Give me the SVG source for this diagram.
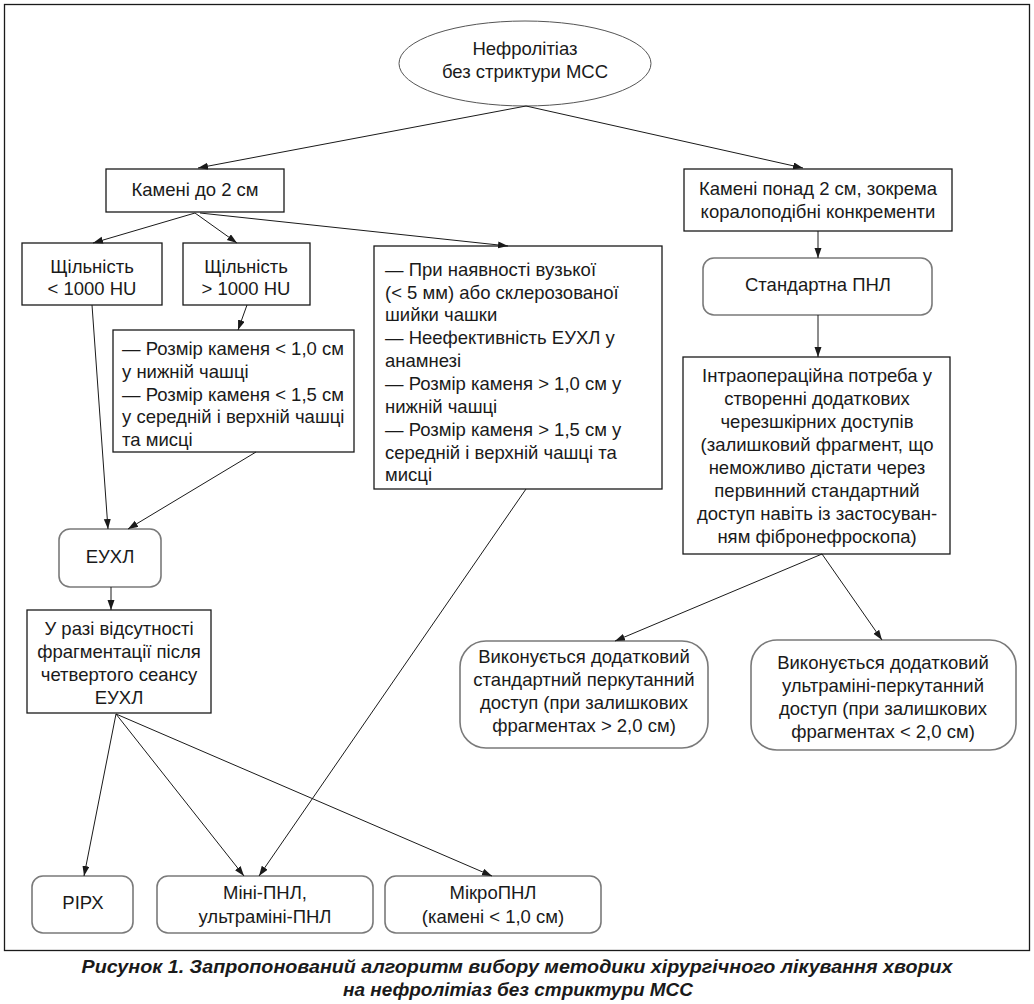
<svg xmlns="http://www.w3.org/2000/svg" width="1034" height="1004" viewBox="0 0 1034 1004">
<defs>
<marker id="ah" markerUnits="userSpaceOnUse" markerWidth="11" markerHeight="8" refX="10" refY="3.5" orient="auto">
<path d="M0,0 L10,3.5 L0,7 z" fill="#1a1a1a"/>
</marker>
<style>
text{font-family:"Liberation Sans",Arial,sans-serif;font-size:18.5px;fill:#1a1a1a}
.c{text-anchor:middle}
.box{fill:#fff;stroke:#1a1a1a;stroke-width:1.3}
.rbox{fill:#fff;stroke:#7a7a7a;stroke-width:1.6}
.ell{fill:#fff;stroke:#555;stroke-width:1}
.conn line{stroke:#1a1a1a;stroke-width:1;marker-end:url(#ah)}
.cap{font-weight:bold;font-style:italic;font-size:19px}
</style>
</defs>
<rect x="0" y="0" width="1034" height="1004" fill="#fff"/>
<rect x="4.5" y="4.5" width="1025" height="946" fill="none" stroke="#1a1a1a" stroke-width="1.3"/>

<g id="n-start">
<ellipse class="ell" cx="525" cy="63.5" rx="126" ry="42.5"/>
<text class="c" x="525" y="55">Нефролітіаз</text>
<text class="c" x="525" y="78">без стриктури МСС</text>
</g>
<g id="n-small">
<rect class="box" x="106" y="169" width="178" height="43"/>
<text class="c" x="195" y="196">Камені до 2 см</text>
</g>
<g id="n-large">
<rect class="box" x="684" y="169" width="268" height="62"/>
<text class="c" x="818" y="195">Камені понад 2 см, зокрема</text>
<text class="c" x="818" y="218">коралоподібні конкременти</text>
</g>
<g id="n-stdpnl">
<rect class="rbox" x="703" y="258" width="229" height="57" rx="11"/>
<text class="c" x="818" y="291">Стандартна ПНЛ</text>
</g>
<g id="n-dens-low">
<rect class="box" x="22" y="243" width="140" height="62"/>
<text class="c" x="92" y="273">Щільність</text>
<text class="c" x="92" y="295">&lt; 1000 HU</text>
</g>
<g id="n-dens-high">
<rect class="box" x="183" y="243" width="127" height="62"/>
<text class="c" x="246" y="273">Щільність</text>
<text class="c" x="246" y="295">&gt; 1000 HU</text>
</g>
<g id="n-cond">
<rect class="box" x="113" y="330" width="241" height="122"/>
<text x="122" y="355">— Розмір каменя &lt; 1,0 см</text>
<text x="122" y="378">у нижній чашці</text>
<text x="122" y="401">— Розмір каменя &lt; 1,5 см</text>
<text x="122" y="423">у середній і верхній чашці</text>
<text x="122" y="446">та мисці</text>
</g>
<g id="n-mid">
<rect class="box" x="374" y="246" width="288" height="243"/>
<text x="385" y="276">— При наявності вузької</text>
<text x="385" y="299">(&lt; 5 мм) або склерозованої</text>
<text x="385" y="321">шийки чашки</text>
<text x="385" y="344">— Неефективність ЕУХЛ у</text>
<text x="385" y="367">анамнезі</text>
<text x="385" y="390">— Розмір каменя &gt; 1,0 см у</text>
<text x="385" y="413">нижній чашці</text>
<text x="385" y="436">— Розмір каменя &gt; 1,5 см у</text>
<text x="385" y="459">середній і верхній чашці та</text>
<text x="385" y="481">мисці</text>
</g>
<g id="n-eswl">
<rect class="rbox" x="59" y="529" width="102" height="58" rx="11"/>
<text class="c" x="110" y="563">ЕУХЛ</text>
</g>
<g id="n-nofrag">
<rect class="box" x="27" y="610" width="184" height="103"/>
<text class="c" x="119" y="635">У разі відсутності</text>
<text class="c" x="119" y="658">фрагментації після</text>
<text class="c" x="119" y="681">четвертого сеансу</text>
<text class="c" x="119" y="704">ЕУХЛ</text>
</g>
<g id="n-intraop">
<rect class="box" x="683" y="357" width="267" height="197"/>
<text class="c" x="817" y="382">Інтраопераційна потреба у</text>
<text class="c" x="817" y="405">створенні додаткових</text>
<text class="c" x="817" y="428">черезшкірних доступів</text>
<text class="c" x="817" y="451">(залишковий фрагмент, що</text>
<text class="c" x="817" y="474">неможливо дістати через</text>
<text class="c" x="817" y="497">первинний стандартний</text>
<text class="c" x="817" y="520">доступ навіть із застосуван-</text>
<text class="c" x="817" y="543">ням фібронефроскопа)</text>
</g>
<g id="n-add-std">
<rect class="rbox" x="460" y="641" width="248" height="107" rx="26"/>
<text class="c" x="584" y="663">Виконується додатковий</text>
<text class="c" x="584" y="686">стандартний перкутанний</text>
<text class="c" x="584" y="709">доступ (при залишкових</text>
<text class="c" x="584" y="732">фрагментах &gt; 2,0 см)</text>
</g>
<g id="n-add-um">
<rect class="rbox" x="751" y="640" width="265" height="110" rx="26"/>
<text class="c" x="883" y="669">Виконується додатковий</text>
<text class="c" x="883" y="692">ультраміні-перкутанний</text>
<text class="c" x="883" y="715">доступ (при залишкових</text>
<text class="c" x="883" y="738">фрагментах &lt; 2,0 см)</text>
</g>
<g id="n-rirs">
<rect class="rbox" x="32" y="876" width="101" height="57" rx="11"/>
<text class="c" x="83" y="909">РІРХ</text>
</g>
<g id="n-mini">
<rect class="rbox" x="157" y="876" width="216" height="57" rx="11"/>
<text class="c" x="265" y="899">Міні-ПНЛ,</text>
<text class="c" x="265" y="923">ультраміні-ПНЛ</text>
</g>
<g id="n-micro">
<rect class="rbox" x="385" y="876" width="216" height="57" rx="11"/>
<text class="c" x="493" y="899">МікроПНЛ</text>
<text class="c" x="493" y="923">(камені &lt; 1,0 см)</text>
</g>

<g id="connectors" class="conn">
<line x1="526" y1="106" x2="198" y2="168"/>
<line x1="526" y1="106" x2="803" y2="168"/>
<line x1="195" y1="213" x2="93" y2="243"/>
<line x1="195" y1="213" x2="237" y2="243"/>
<line x1="200" y1="213" x2="508" y2="246"/>
<line x1="818" y1="231" x2="818" y2="258"/>
<line x1="818" y1="315" x2="818" y2="357"/>
<line x1="247" y1="305" x2="238" y2="330"/>
<line x1="92" y1="305" x2="108" y2="529"/>
<line x1="256" y1="452" x2="128" y2="529"/>
<line x1="111" y1="587" x2="111" y2="610"/>
<line x1="822" y1="554" x2="615" y2="641"/>
<line x1="822" y1="554" x2="882" y2="640"/>
<line x1="116" y1="714" x2="84" y2="876"/>
<line x1="116" y1="714" x2="244" y2="876"/>
<line x1="116" y1="714" x2="492" y2="876"/>
<line x1="526" y1="489" x2="259" y2="876"/>
</g>

<g id="caption">
<text class="c cap" x="517" y="973" textLength="871" lengthAdjust="spacingAndGlyphs">Рисунок 1. Запропонований алгоритм вибору методики хірургічного лікування хворих</text>
<text class="c cap" x="518" y="996" textLength="350" lengthAdjust="spacingAndGlyphs">на нефролітіаз без стриктури МСС</text>
</g>
</svg>
